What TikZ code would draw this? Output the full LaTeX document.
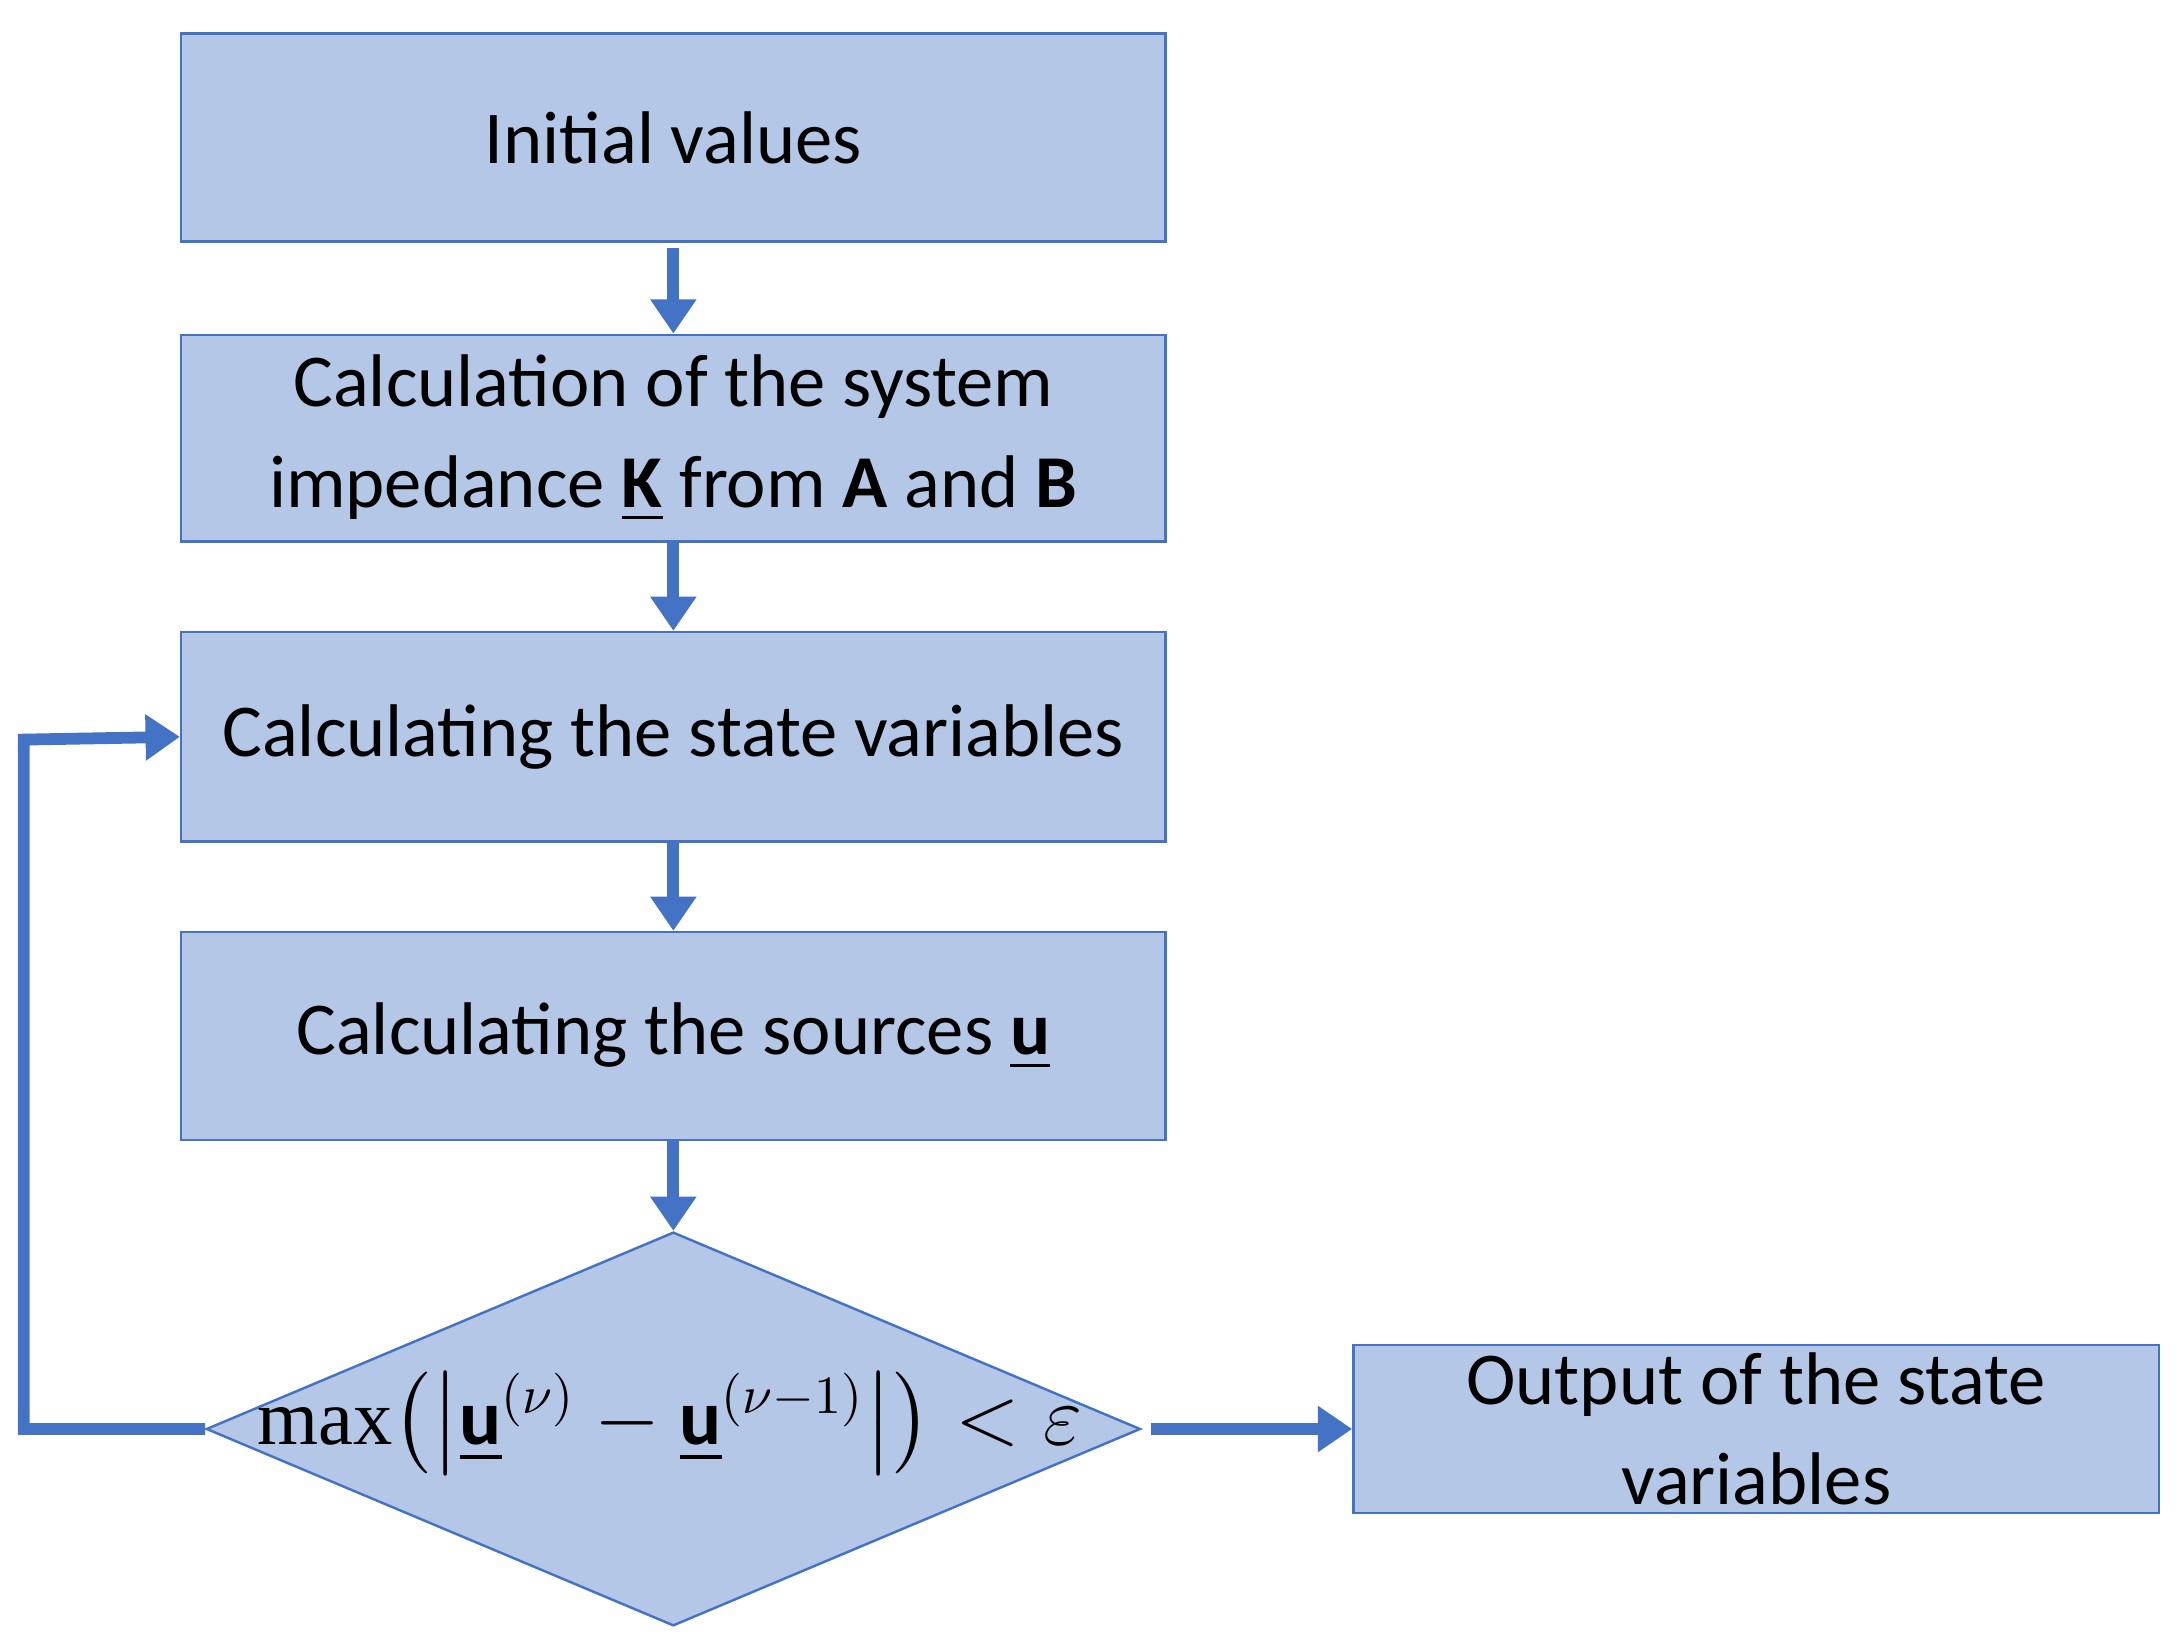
\documentclass[tikz,border=0pt]{standalone}
\usepackage{amsmath}
\usepackage{fontspec}
\setmainfont{Carlito}
\newfontfamily\serif{Liberation Serif}
\usetikzlibrary{shapes.geometric,arrows.meta}
\definecolor{bfill}{HTML}{B4C7E7}
\definecolor{bline}{HTML}{4472C4}
\begin{document}
\begin{tikzpicture}[x=0.01cm,y=-0.01cm,
 box/.style={draw=bline,fill=bfill,line width=0.5pt,inner sep=0,align=center,font=\fontsize{15.2}{20.5}\selectfont},
 arr/.style={draw=bline,line width=2.4pt,-{Triangle[length=7pt,width=9pt]}}]
\useasboundingbox (0,0) rectangle (1560,1180);
\node[box,minimum width=7.05cm,minimum height=1.49cm] (b1) at (482.5,98.5) {Initial values};
\node[box,minimum width=7.05cm,minimum height=1.48cm] (b2) at (482.5,314) {Calculation of the system\\impedance $\underline{\textbf{K}}$ from \textbf{A} and \textbf{B}};
\node[box,minimum width=7.05cm,minimum height=1.5cm] (b3) at (482.5,528) {Calculating the state variables};
\node[box,minimum width=7.05cm,minimum height=1.49cm] (b4) at (482.5,742.5) {Calculating the sources \underline{\textbf{u}}};
\node[box,diamond,minimum width=6.69cm,minimum height=2.82cm] (d) at (482.5,1024) {};
\node[font=\fontsize{16}{20}\selectfont] (f) at (480,1020) {$\text{\serif max}\!\left(\left|\underline{\mathbf{u}}^{(\nu)}-\underline{\mathbf{u}}^{(\nu-1)}\right|\right)<\varepsilon$};
\node[box,minimum width=5.77cm,minimum height=1.2cm] (o) at (1258.5,1024) {Output of the state\\variables};
\coordinate (s1) at (482.5,178);
\draw[arr] (s1) -- (b2.north);
\draw[arr] (b2.south) -- (b3.north);
\draw[arr] (b3.south) -- (b4.north);
\draw[arr] (b4.south) -- (d.north);
\draw[arr] ([xshift=2pt]d.east) -- (o.west);
\coordinate (c1) at (17,1024);
\coordinate (c2) at (17,530);
\draw[arr] (d.west) -- (c1) -- (c2) -- (b3.west);
\end{tikzpicture}
\end{document}
